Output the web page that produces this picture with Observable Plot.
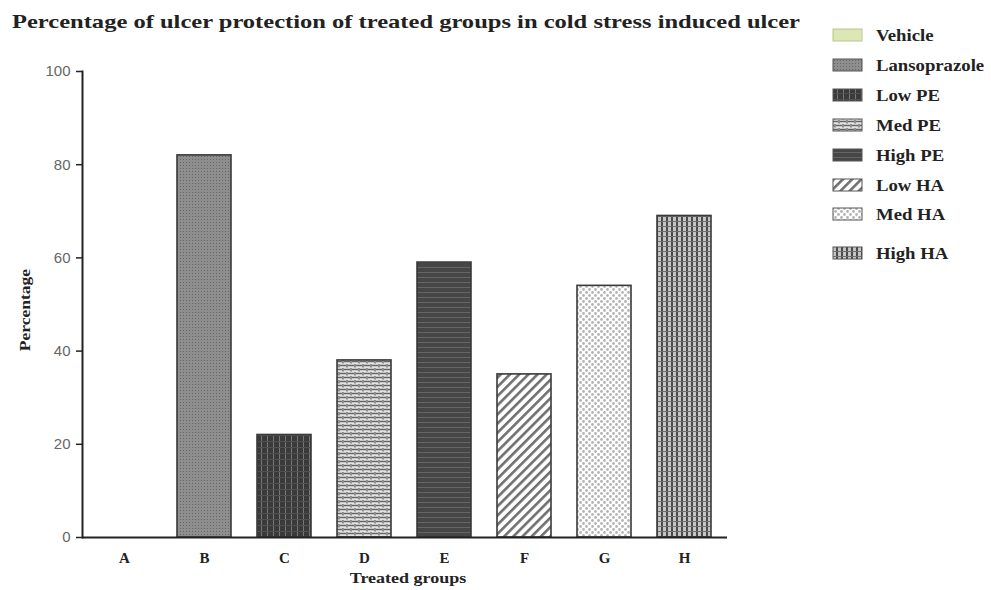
<!DOCTYPE html>
<html>
<head>
<meta charset="utf-8">
<script src="https://cdn.jsdelivr.net/npm/d3@7"></script>
<script src="https://cdn.jsdelivr.net/npm/@observablehq/plot@0.6"></script>
<style>
  html, body { margin: 0; padding: 0; background: #fff; }
  #chart svg { display: block; }
</style>
</head>
<body>
<div id="chart"></div>
<script>
const groups = ["A", "B", "C", "D", "E", "F", "G", "H"];
const treatments = ["Vehicle", "Lansoprazole", "Low PE", "Med PE", "High PE", "Low HA", "Med HA", "High HA"];
const protection = [0, 82, 22, 38, 59, 35, 54, 69];
const yTicks = [0, 20, 40, 60, 80, 100];
const titleText = "Percentage of ulcer protection of treated groups in cold stress induced ulcer";
const xLabel = "Treated groups";
const yLabel = "Percentage";

const data = groups.map((g, i) => ({group: g, treatment: treatments[i], value: protection[i], idx: i}));
const serif = "'Liberation Serif', 'DejaVu Serif', serif";
const sans = "'Liberation Sans', Arial, sans-serif";

const chart = Plot.plot({
  width: 991,
  height: 590,
  marginLeft: 82,
  marginRight: 264,
  marginTop: 71,
  marginBottom: 53,
  style: {background: "#fff"},
  x: {domain: groups, paddingInner: 0.32, paddingOuter: 0.16, label: null},
  y: {domain: [0, 100], label: null},
  color: {type: "identity"},
  marks: [
    Plot.barY(data, {x: "group", y: "value", fill: d => `url(#pat${d.idx})`, stroke: "#3a3a3a", strokeWidth: 1.6}),
    Plot.axisY({ticks: yTicks, tickSize: 6, tickPadding: 6, fontSize: 15, fontFamily: sans, stroke: "#222", strokeWidth: 1.5, fill: "#666", label: null}),
    Plot.axisX({tickSize: 0, tickPadding: 15, fontSize: 15, fontFamily: serif, fontWeight: "bold", fill: "#222", label: null}),
    Plot.ruleY([0], {stroke: "#222", strokeWidth: 2}),
    Plot.frame({anchor: "left", stroke: "#222", strokeWidth: 2})
  ]
});

document.getElementById("chart").appendChild(chart);

const svg = d3.select(chart);
const defs = svg.insert("defs", ":first-child");

function pat(id, w, h, extra) {
  const p = defs.append("pattern").attr("id", id).attr("patternUnits", "userSpaceOnUse").attr("width", w).attr("height", h);
  if (extra) p.attr("patternTransform", extra);
  return p;
}
// Vehicle
pat("pat0", 4, 4).append("rect").attr("width", 4).attr("height", 4).attr("fill", "#dde7b5");
// Lansoprazole
{ const p = pat("pat1", 3, 3);
  p.append("rect").attr("width", 3).attr("height", 3).attr("fill", "#8e8e8e");
  p.append("rect").attr("width", 1).attr("height", 1).attr("fill", "#666"); }
// Low PE
{ const p = pat("pat2", 6, 6);
  p.append("rect").attr("width", 6).attr("height", 6).attr("fill", "#3a3a3a");
  p.append("rect").attr("x", 3).attr("width", 1).attr("height", 6).attr("fill", "#777");
  p.append("rect").attr("y", 3).attr("width", 6).attr("height", 1).attr("fill", "#505050"); }
// Med PE
{ const p = pat("pat3", 8, 8);
  p.append("rect").attr("width", 8).attr("height", 8).attr("fill", "#e4e4e4");
  p.append("path").attr("d", "M0,1.5H6 M4,5.5H8 M0,5.5H2").attr("stroke", "#666").attr("stroke-width", 1.4);
  p.append("path").attr("d", "M7,0V3.5 M3,4V7.5").attr("stroke", "#555").attr("stroke-width", 1.2); }
// High PE
{ const p = pat("pat4", 5, 5);
  p.append("rect").attr("width", 5).attr("height", 5).attr("fill", "#464646");
  p.append("rect").attr("y", 2).attr("width", 5).attr("height", 1).attr("fill", "#666"); }
// Low HA
{ const p = pat("pat5", 6.5, 6.5, "rotate(45)");
  p.append("rect").attr("width", 6.5).attr("height", 6.5).attr("fill", "#fff");
  p.append("rect").attr("width", 2.6).attr("height", 6.5).attr("fill", "#707070"); }
// Med HA
{ const p = pat("pat6", 6, 6);
  p.append("rect").attr("width", 6).attr("height", 6).attr("fill", "#fff");
  p.append("circle").attr("cx", 1.5).attr("cy", 1.5).attr("r", 1.4).attr("fill", "#b4b4b4");
  p.append("circle").attr("cx", 4.5).attr("cy", 4.5).attr("r", 1.4).attr("fill", "#b4b4b4"); }
// High HA
{ const p = pat("pat7", 5, 5);
  p.append("rect").attr("width", 5).attr("height", 5).attr("fill", "#c4c4c4");
  p.append("rect").attr("x", 1).attr("width", 2).attr("height", 5).attr("fill", "#4a4a4a");
  p.append("rect").attr("y", 1).attr("width", 5).attr("height", 1).attr("fill", "#707070"); }

function stretch(sel, factor) {
  const node = sel.node();
  const w = node.getComputedTextLength();
  if (w > 0) sel.attr("textLength", w * factor).attr("lengthAdjust", "spacingAndGlyphs");
  return sel;
}

// Title
svg.append("text")
  .attr("x", 12).attr("y", 28).attr("text-anchor", "start")
  .attr("textLength", 788).attr("lengthAdjust", "spacingAndGlyphs")
  .attr("font-family", serif).attr("font-weight", "bold").attr("font-size", 19).attr("fill", "#222")
  .text(titleText);

// Axis labels
stretch(svg.append("text")
  .attr("x", 408).attr("y", 583).attr("text-anchor", "middle")
  .attr("font-family", serif).attr("font-weight", "bold").attr("font-size", 15).attr("fill", "#222")
  .text(xLabel), 1.2);
stretch(svg.append("text")
  .attr("transform", "translate(30,310) rotate(-90)").attr("text-anchor", "middle")
  .attr("font-family", serif).attr("font-weight", "bold").attr("font-size", 14).attr("fill", "#222")
  .text(yLabel), 1.25);

// Legend
const legendY = [35, 65, 95, 125, 155, 185, 214, 253];
const lg = svg.append("g").attr("text-anchor", "start");
treatments.forEach((t, i) => {
  const y = legendY[i];
  lg.append("rect").attr("x", 833).attr("y", y - 6).attr("width", 29).attr("height", 12)
    .attr("fill", `url(#pat${i})`).attr("stroke", i === 0 ? "#b8c58e" : "#555").attr("stroke-width", 1);
  stretch(lg.append("text").attr("x", 876).attr("y", y + 5.5).attr("text-anchor", "start")
    .attr("font-family", serif).attr("font-weight", "bold").attr("font-size", 16).attr("fill", "#222")
    .text(t), 1.17);
});
</script>
</body>
</html>
